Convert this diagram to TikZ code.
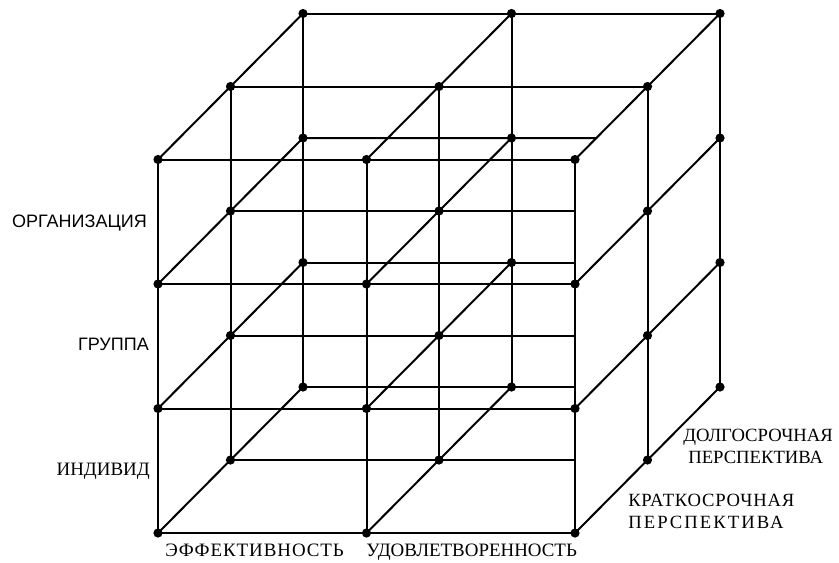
\documentclass[tikz,border=0pt]{standalone}
\usepackage{fontspec}
\setmainfont{Liberation Serif}
\newfontfamily\labelsans{Liberation Sans}
\tikzset{
  edge/.style={line width=1.5pt, color=black, line cap=round},
  sanslabel/.style={font=\labelsans\fontsize{13.5}{16}\selectfont, inner sep=0pt, anchor=base east},
  seriflabel/.style={font=\fontsize{14.2}{17}\selectfont, inner sep=0pt, anchor=base west},
  termlabel/.style={font=\fontsize{14}{17}\selectfont, inner sep=0pt, anchor=base west}
}

\begin{document}
\begin{tikzpicture}[x=0.75pt, y=-0.75pt]
  \useasboundingbox (0,0) rectangle (839,562);

  % Lattice points p<i><j><k>: i across, j up, k into depth
  \foreach \i in {0,1,2}
    \foreach \j in {0,1,2,3}
      \foreach \k in {0,1,2}
        \coordinate (p\i\j\k) at ({158+208.5*\i+72.5*\k}, {533-124.5*\j-73*\k});

  % Front rows and the two top rows
  \foreach \j in {0,1,2,3}
    \draw[edge] (p0\j0) -- (p2\j0);
  \draw[edge] (p031) -- (p231);
  \draw[edge] (p032) -- (p232);

  % Inner rows, cut where the right face hides them
  \foreach \j in {0,1,2}
    \draw[edge] (p0\j1) -- (p0\j1 -| p200);
  \foreach \j in {0,1}
    \draw[edge] (p0\j2) -- (p0\j2 -| p200);
  \draw[edge] (p022) -- (intersection of p022--p222 and p230--p231);

  % Uprights
  \foreach \i in {0,1,2}
    \foreach \k in {0,1,2}
      \draw[edge] (p\i0\k) -- (p\i3\k);

  % Lines into depth
  \foreach \i in {0,1,2}
    \foreach \j in {0,1,2,3}
      \draw[edge] (p\i\j0) -- (p\i\j2);

  % Knots
  \foreach \i in {0,1,2}
    \foreach \j in {0,1,2,3}
      \foreach \k in {0,1,2}
        \fill (p\i\j\k) circle (4.6);

  % Levels
  \node[sanslabel] (org) at (147,227) {ОРГАНИЗАЦИЯ};
  \node[sanslabel] (grp) at (149,350) {ГРУППА};
  \node[seriflabel, anchor=base east] (ind) at (150,475) {ИНДИВИД};

  % Criteria
  \node[seriflabel] (eff) at (165,556) {\addfontfeature{LetterSpace=5}ЭФФЕКТИВНОСТЬ};
  \node[seriflabel] (sat) at (366,556) {УДОВЛЕТВОРЕННОСТЬ};

  % Time horizons
  \node[termlabel] (long1) at (683,441) {ДОЛГОСРОЧНАЯ};
  \node[termlabel] (long2) at (688,463) {ПЕРСПЕКТИВА};
  \node[termlabel] (short1) at (628,506) {\addfontfeature{LetterSpace=4}КРАТКОСРОЧНАЯ};
  \node[termlabel] (short2) at (628,528) {\addfontfeature{LetterSpace=11}ПЕРСПЕКТИВА};
\end{tikzpicture}
\end{document}
